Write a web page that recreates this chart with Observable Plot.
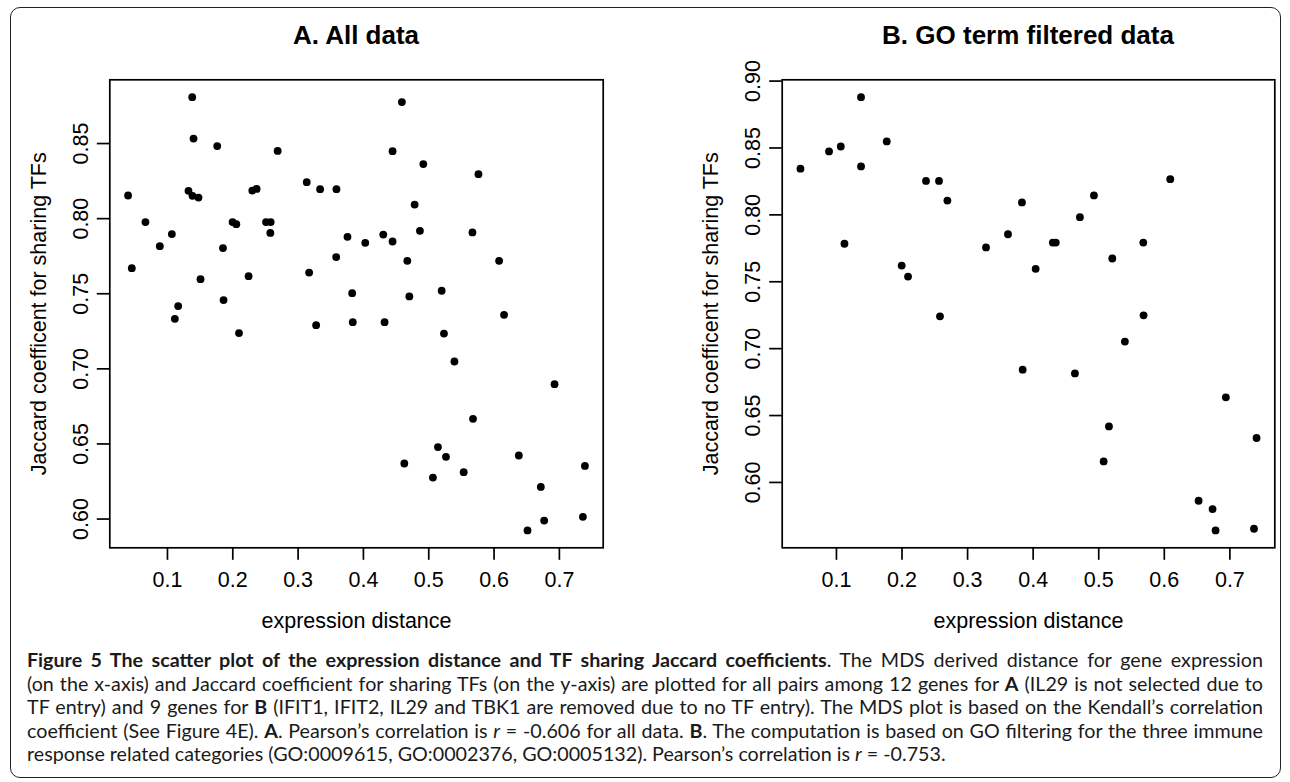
<!DOCTYPE html>
<html><head><meta charset="utf-8">
<script src="https://cdn.jsdelivr.net/npm/d3@7"></script>
<script src="https://cdn.jsdelivr.net/npm/@observablehq/plot@0.6"></script>
<style>
html,body{margin:0;padding:0;background:#fff;}
#fig{position:relative;width:1290px;height:782px;overflow:hidden;background:#fff;}
#border{position:absolute;left:9.5px;top:6.7px;width:1271px;height:771.6px;box-sizing:border-box;border:1.6px solid #222;border-radius:10px;}
.ptitle{position:absolute;top:20.3px;line-height:30px;font-family:"Liberation Sans",Arial,sans-serif;font-weight:bold;font-size:26px;white-space:nowrap;transform:translateX(-50%);color:#000;}
#tA{left:356px;}
#tB{left:1028px;}
#panelA{position:absolute;left:0;top:60px;}
#panelB{position:absolute;left:645px;top:60px;}
#caption{position:absolute;left:27px;top:648px;width:1236px;font-family:Lato,"Open Sans",sans-serif;font-size:20px;line-height:23.5px;color:#1a1a1a;}
.cl{white-space:nowrap;}
</style></head>
<body><div id="fig">
<div id="border"></div>
<div class="ptitle" id="tA">A. All data</div>
<div class="ptitle" id="tB">B. GO term filtered data</div>
<div id="panelA"></div>
<div id="panelB"></div>
<div id="caption">
<div class="cl"><span><b>Figure 5 The scatter plot of the expression distance and TF sharing Jaccard coefficients</b>. The MDS derived distance for gene expression</span></div>
<div class="cl"><span>(on the x-axis) and Jaccard coefficient for sharing TFs (on the y-axis) are plotted for all pairs among 12 genes for <b>A</b> (IL29 is not selected due to</span></div>
<div class="cl"><span>TF entry) and 9 genes for <b>B</b> (IFIT1, IFIT2, IL29 and TBK1 are removed due to no TF entry). The MDS plot is based on the Kendall’s correlation</span></div>
<div class="cl"><span>coefficient (See Figure 4E). <b>A</b>. Pearson’s correlation is <i>r</i> = -0.606 for all data. <b>B</b>. The computation is based on GO filtering for the three immune</span></div>
<div class="cl"><span>response related categories (GO:0009615, GO:0002376, GO:0005132). Pearson’s correlation is <i>r</i> = -0.753.</span></div>
</div>
</div>
<script>
// Panel A: all data (expression distance, Jaccard coefficient)
const aX = [0.0397,0.0454,0.1379,0.1399,0.1762,0.2687,0.1322,0.1383,0.1475,0.0663,
  0.0883,0.1067,0.1113,0.1164,0.1506,0.1850,0.1859,0.1997,0.2054,0.2095,
  0.2242,0.2299,0.2365,0.2509,0.2580,0.2575,0.3132,0.3169,0.3276,0.3337,
  0.3587,0.3583,0.3756,0.3828,0.3837,0.4028,0.4304,0.4324,0.4589,0.4446,
  0.4917,0.5761,0.4784,0.4446,0.4865,0.5669,0.4672,0.6077,0.4703,0.5198,
  0.6153,0.5233,0.5393,0.6926,0.5678,0.5141,0.5264,0.4626,0.6379,0.7391,
  0.5064,0.5535,0.6716,0.6767,0.7360,0.6512];
const aY = [0.8154,0.7670,0.8809,0.8533,0.8483,0.8451,0.8185,0.8152,0.8140,0.7977,
  0.7817,0.7897,0.7333,0.7418,0.7597,0.7804,0.7458,0.7977,0.7963,0.7238,
  0.7617,0.8187,0.8198,0.7977,0.7977,0.7905,0.8243,0.7641,0.7291,0.8196,
  0.8196,0.7744,0.7879,0.7504,0.7311,0.7839,0.7894,0.7311,0.8776,0.8449,
  0.8363,0.8296,0.8094,0.7848,0.7919,0.7908,0.7719,0.7719,0.7482,0.7520,
  0.7360,0.7235,0.7049,0.6898,0.6667,0.6479,0.6414,0.6370,0.6423,0.6354,
  0.6276,0.6312,0.6214,0.5990,0.6015,0.5924];
// Panel B: GO term filtered data
const bX = [0.0451,0.0887,0.1066,0.1375,0.1375,0.1767,0.1122,0.1995,0.2092,0.2366,
  0.2564,0.2692,0.2579,0.3281,0.3616,0.3829,0.4038,0.4300,0.4345,0.4713,
  0.4927,0.5207,0.5680,0.6091,0.5684,0.5399,0.3840,0.4637,0.6939,0.5156,
  0.7407,0.5075,0.6523,0.6736,0.6782,0.7368];
const bY = [0.8345,0.8474,0.8511,0.8880,0.8362,0.8549,0.7784,0.7621,0.7539,0.8254,
  0.8254,0.8107,0.7242,0.7757,0.7855,0.8093,0.7597,0.7793,0.7793,0.7983,
  0.8145,0.7674,0.7793,0.8267,0.7249,0.7053,0.6843,0.6815,0.6636,0.6419,
  0.6332,0.6157,0.5863,0.5801,0.5641,0.5654];
const xTicks = [0.1,0.2,0.3,0.4,0.5,0.6,0.7];
const yTicksA = [0.60,0.65,0.70,0.75,0.80,0.85];
const yTicksB = [0.60,0.65,0.70,0.75,0.80,0.85,0.90];
const yLabel = "Jaccard coefficent for sharing TFs";
const xLabel = "expression distance";

function pad(ext){const r = ext[1]-ext[0]; return [ext[0]-0.04*r, ext[1]+0.04*r];}

function panel(xs, ys, yTicks, ml, mr){
  const data = xs.map((x,i)=>({x, y: ys[i]}));
  const fs = 21.5;
  return Plot.plot({
    width: 645, height: 580,
    marginLeft: ml, marginRight: mr, marginTop: 19.3, marginBottom: 92.7,
    x: {domain: pad(d3.extent(xs)), axis: null},
    y: {domain: pad(d3.extent(ys)), axis: null},
    style: {fontFamily: "'Liberation Sans', Arial, sans-serif", fontSize: fs + "px", background: "transparent", color: "black", overflow: "visible"},
    marks: [
      Plot.axisX(xTicks, {tickSize: 12.5, tickFormat: () => "", strokeWidth: 1.7, stroke: "black", label: null}),
      Plot.axisY(yTicks, {tickSize: 12.5, tickFormat: () => "", strokeWidth: 1.7, stroke: "black", label: null}),
      Plot.frame({stroke: "black", strokeWidth: 1.7}),
      Plot.text(xTicks, {x: d => d, frameAnchor: "bottom", text: d => d3.format(".1f")(d), dy: 38.7, lineAnchor: "bottom", textAnchor: "middle", fontSize: fs, fill: "black"}),
      Plot.text(yTicks, {y: d => d, frameAnchor: "left", text: d => d3.format(".2f")(d), rotate: -90, dx: -22, lineAnchor: "bottom", textAnchor: "middle", fontSize: fs, fill: "black"}),
      Plot.text([yLabel], {frameAnchor: "left", text: d => d, rotate: -90, dx: -64, lineAnchor: "bottom", textAnchor: "middle", fontSize: fs, fill: "black"}),
      Plot.text([xLabel], {frameAnchor: "bottom", text: d => d, dy: 80.2, lineAnchor: "bottom", textAnchor: "middle", fontSize: fs, fill: "black"}),
      Plot.dot(data, {x: "x", y: "y", r: 3.9, fill: "black", stroke: null})
    ]
  });
}

document.getElementById("panelA").appendChild(panel(aX, aY, yTicksA, 109.3, 42.3));
document.getElementById("panelB").appendChild(panel(bX, bY, yTicksB, 136.7, 15.7));

function justify(){
  const cap = document.getElementById("caption");
  const spans = [...cap.querySelectorAll(".cl > span")];
  const last = spans[spans.length-1];
  cap.style.fontSize = "20px";
  const w5 = last.getBoundingClientRect().width;
  let fs = 20 * 919 / w5;
  fs = Math.max(16, Math.min(22, fs));
  cap.style.fontSize = fs + "px";
  spans.slice(0, -1).forEach(s => {
    const div = s.parentNode;
    div.style.wordSpacing = "0px";
    const w = s.getBoundingClientRect().width;
    const n = (s.textContent.match(/ /g) || []).length;
    div.style.wordSpacing = ((1236 - w) / n) + "px";
  });
}
justify();
if (document.fonts && document.fonts.ready) document.fonts.ready.then(justify);
</script>
</body></html>
